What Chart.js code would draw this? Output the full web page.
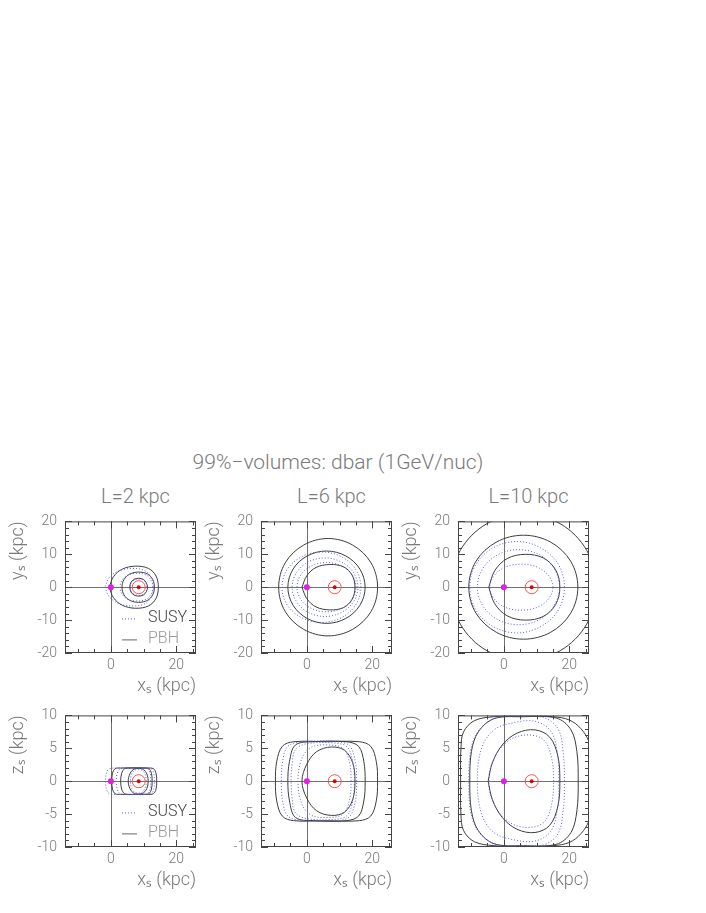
<!DOCTYPE html>
<html>
<head>
<meta charset="utf-8">
<script src="https://cdn.jsdelivr.net/npm/chart.js@4.4.1/dist/chart.umd.min.js"></script>
<style>
  body { margin: 0; background: #fff; }
  #page { position: relative; width: 706px; height: 913px; overflow: hidden;
          font-family: Roboto, "Liberation Sans", "DejaVu Sans", sans-serif; font-weight: 300; color: #7a7a7a; }
  .txt { position: absolute; white-space: nowrap; transform: translate(-50%, -50%); }
  canvas { position: absolute; }
</style>
</head>
<body>
<div id="page">
  <div class="txt" style="left:338px; top:462px; font-size:21px;">99%−volumes: dbar (1GeV/nuc)</div>
</div>
<script>
// panel titles and axes
const panelTitles = ["L=2 kpc", "L=6 kpc", "L=10 kpc"];
const legendLabels = ["SUSY", "PBH"];
const xRange = [-14, 26];
const xLabels = [0, 20];
const xMinor = [-10, -5, 5, 10, 15, 25];
const yLabelsXY = [-20, -10, 0, 10, 20];
const yMinorXY = [-18, -16, -14, -12, -8, -6, -4, -2, 2, 4, 6, 8, 12, 14, 16, 18];
const yLabelsXZ = [-10, -5, 0, 5, 10];
const yMinorXZ = [-9, -8, -7, -6, -4, -3, -2, -1, 1, 2, 3, 4, 6, 7, 8, 9];

// galactic centre and sun
const gcPoint = [[0, 0]];
const sunPoint = [[8.5, 0]];

// contours: smooth loops are listed once round; the "pointed" ones start and end at their sharp left tip

// L=2 kpc, x-y plane
const pbhXY2a = [[11.2,0],[10.8,1.4],[9.9,2.4],[8.5,2.7],[7.1,2.4],[6.1,1.4],[5.8,0],[6.1,-1.4],[7.1,-2.4],[8.5,-2.7],[9.9,-2.4],[10.8,-1.4]];
const pbhXY2b = [[13.3,0],[12.8,2.3],[11.2,4.0],[8.5,4.6],[5.8,4.0],[4.0,2.3],[3.4,0],[4.0,-2.3],[5.8,-4.0],[8.5,-4.6],[11.2,-4.0],[12.8,-2.3]];
const pbhXY2c = [[-0.5,0],[0.8,-3.2],[3.5,-5.5],[7.5,-6.4],[11.5,-5.7],[13.8,-3.4],[14.5,0],[13.8,3.4],[11.5,5.7],[7.5,6.4],[3.5,5.5],[0.8,3.2],[-0.5,0]];
const susyXY2a = [[11.0,0],[10.7,1.3],[9.8,2.2],[8.5,2.5],[7.2,2.2],[6.3,1.3],[6.0,0],[6.3,-1.3],[7.2,-2.2],[8.5,-2.5],[9.8,-2.2],[10.7,-1.3]];
const susyXY2b = [[12.8,0],[12.3,2.1],[10.8,3.7],[8.0,4.2],[5.2,3.7],[3.4,2.1],[2.8,0],[3.4,-2.1],[5.2,-3.7],[8.0,-4.2],[10.8,-3.7],[12.3,-2.1]];
const susyXY2c = [[-1.8,0],[-0.5,-2.9],[2.5,-5.0],[6.5,-5.7],[10.2,-5.1],[12.3,-3.0],[13.0,0],[12.3,3.0],[10.2,5.1],[6.5,5.7],[2.5,5.0],[-0.5,2.9],[-1.8,0]];

// L=6 kpc, x-y plane
const pbhXY6a = [[21.6,0],[19.6,7.4],[14.0,12.8],[6.5,14.8],[-1.0,12.8],[-6.6,7.4],[-8.6,0],[-6.6,-7.4],[-1.0,-12.8],[6.5,-14.8],[14.0,-12.8],[19.6,-7.4]];
const pbhXY6b = [[17.8,0],[16.2,5.5],[11.9,9.5],[6.0,11.0],[0.1,9.5],[-4.2,5.5],[-5.8,0],[-4.2,-5.5],[0.1,-9.5],[6.0,-11.0],[11.9,-9.5],[16.2,-5.5]];
const pbhXY6c = [[-1.5,0],[0.0,-3.5],[2.8,-6.0],[7.0,-6.9],[11.2,-6.2],[13.8,-3.7],[14.7,0],[13.8,3.7],[11.2,6.2],[7.0,6.9],[2.8,6.0],[0.0,3.5],[-1.5,0]];
const susyXY6a = [[16.5,0],[14.9,5.4],[10.5,9.3],[4.5,10.7],[-1.5,9.3],[-6.0,5.4],[-7.6,0],[-6.0,-5.4],[-1.5,-9.3],[4.5,-10.7],[10.5,-9.3],[14.9,-5.4]];
const susyXY6b = [[15.6,0],[14.2,4.5],[10.5,7.7],[5.5,8.9],[0.5,7.7],[-3.1,4.5],[-4.5,0],[-3.1,-4.5],[0.5,-7.7],[5.5,-8.9],[10.5,-7.7],[14.2,-4.5]];
const susyXY6c = [[15.0,0],[13.8,3.8],[10.5,6.5],[6.0,7.5],[1.5,6.5],[-1.8,3.8],[-3.0,0],[-1.8,-3.8],[1.5,-6.5],[6.0,-7.5],[10.5,-6.5],[13.8,-3.8]];

// L=10 kpc, x-y plane
const pbhXY10a = [[28.3,0],[25.3,11.2],[17.2,19.3],[6.0,22.3],[-5.2,19.3],[-13.3,11.2],[-16.3,0],[-13.3,-11.2],[-5.2,-19.3],[6.0,-22.3],[17.2,-19.3],[25.3,-11.2]];
const pbhXY10b = [[22.6,0],[20.4,7.9],[14.3,13.7],[6.0,15.8],[-2.3,13.7],[-8.5,7.9],[-10.7,0],[-8.5,-7.9],[-2.3,-13.7],[6.0,-15.8],[14.3,-13.7],[20.4,-7.9]];
const pbhXY10c = [[-4.6,0],[-2.8,-5.0],[1.0,-8.7],[6.5,-10.0],[12.0,-8.9],[15.8,-5.3],[17.1,0],[15.8,5.3],[12.0,8.9],[6.5,10.0],[1.0,8.7],[-2.8,5.0],[-4.6,0]];
const susyXY10a = [[18.5,0],[16.6,7.0],[11.2,12.0],[4.0,13.9],[-3.2,12.0],[-8.5,7.0],[-10.4,0],[-8.5,-7.0],[-3.2,-12.0],[4.0,-13.9],[11.2,-12.0],[16.6,-7.0]];
const susyXY10b = [[17.0,0],[15.3,5.7],[10.8,9.9],[4.5,11.4],[-1.8,9.9],[-6.4,5.7],[-8.1,0],[-6.4,-5.7],[-1.8,-9.9],[4.5,-11.4],[10.8,-9.9],[15.3,-5.7]];
const susyXY10c = [[15.0,0],[13.7,3.5],[10.2,6.1],[5.3,7.0],[0.4,6.1],[-3.0,3.5],[-4.3,0],[-3.0,-3.5],[0.4,-6.1],[5.3,-7.0],[10.2,-6.1],[13.7,-3.5]];

// L=2 kpc, x-z plane
const pbhXZ2a = [[11.4,0],[11.0,1.1],[10.0,1.75],[8.4,1.95],[6.8,1.75],[5.8,1.1],[5.3,0],[5.8,-1.1],[6.8,-1.75],[8.4,-1.95],[10.0,-1.75],[11.0,-1.1]];
const pbhXZ2b = [[12.6,0],[12.4,1.2],[11.6,1.9],[10.0,2.0],[6.0,2.0],[4.2,1.9],[3.3,1.2],[3.0,0],[3.3,-1.2],[4.2,-1.9],[6.0,-2.0],[10.0,-2.0],[11.6,-1.9],[12.4,-1.2]];
const pbhXZ2c = [[14.0,0],[13.8,1.2],[13.0,1.9],[11.0,2.0],[3.0,2.0],[1.3,1.9],[0.5,1.2],[0.3,0],[0.5,-1.2],[1.3,-1.9],[3.0,-2.0],[11.0,-2.0],[13.0,-1.9],[13.8,-1.2]];
const susyXZ2a = [[10.8,0],[10.5,1.0],[9.6,1.65],[8.4,1.8],[7.2,1.65],[6.3,1.0],[6.0,0],[6.3,-1.0],[7.2,-1.65],[8.4,-1.8],[9.6,-1.65],[10.5,-1.0]];
const susyXZ2b = [[12.2,0],[12.0,1.2],[11.2,1.9],[9.5,2.0],[4.0,2.0],[2.6,1.8],[1.9,1.1],[1.7,0],[1.9,-1.1],[2.6,-1.8],[4.0,-2.0],[9.5,-2.0],[11.2,-1.9],[12.0,-1.2]];
const susyXZ2c = [[13.3,0],[13.1,1.2],[12.3,1.9],[10.5,2.0],[1.0,2.0],[-0.7,1.8],[-1.4,1.1],[-1.6,0],[-1.4,-1.1],[-0.7,-1.8],[1.0,-2.0],[10.5,-2.0],[12.3,-1.9],[13.1,-1.2]];

// L=6 kpc, x-z plane
const pbhXZ6a = [[21.6,0],[21.2,3.0],[19.5,5.3],[16.0,6.0],[6.0,6.0],[-4.0,6.0],[-7.5,5.3],[-9.2,3.0],[-9.6,0],[-9.2,-3.0],[-7.5,-5.3],[-4.0,-6.0],[6.0,-6.0],[16.0,-6.0],[19.5,-5.3],[21.2,-3.0]];
const pbhXZ6b = [[17.8,0],[17.4,3.0],[15.8,5.3],[12.0,6.0],[2.0,6.0],[-3.5,5.5],[-5.3,3.0],[-5.8,0],[-5.3,-3.0],[-3.5,-5.5],[2.0,-6.0],[12.0,-6.0],[15.8,-5.3],[17.4,-3.0]];
const pbhXZ6c = [[14.7,0],[14.0,2.8],[11.5,4.7],[7.5,5.2],[3.0,4.5],[0.0,2.6],[-1.5,0],[0.0,-2.6],[3.0,-4.5],[7.5,-5.2],[11.5,-4.7],[14.0,-2.8]];
const susyXZ6a = [[15.2,0],[14.8,3.0],[13.0,5.4],[9.0,6.0],[-1.0,6.0],[-5.8,5.3],[-7.4,3.0],[-7.8,0],[-7.4,-3.0],[-5.8,-5.3],[-1.0,-6.0],[9.0,-6.0],[13.0,-5.4],[14.8,-3.0]];
const susyXZ6b = [[14.5,0],[14.0,3.0],[12.3,5.2],[8.5,5.8],[0.0,5.7],[-3.5,4.8],[-4.5,2.6],[-4.8,0],[-4.5,-2.6],[-3.5,-4.8],[0.0,-5.7],[8.5,-5.8],[12.3,-5.2],[14.0,-3.0]];
const susyXZ6c = [[13.5,0],[13.0,2.9],[11.0,5.0],[7.0,5.5],[1.5,5.2],[-1.5,3.5],[-2.7,0],[-1.5,-3.5],[1.5,-5.2],[7.0,-5.5],[11.0,-5.0],[13.0,-2.9]];

// L=10 kpc, x-z plane
const pbhXZ10a = [[27.6,0],[27.3,3.0],[26.0,6.0],[23.5,8.0],[20.0,9.3],[15.0,9.8],[5.0,9.9],[-3.0,9.8],[-9.0,9.2],[-12.3,7.5],[-13.1,5.0],[-13.2,0],[-13.1,-5.0],[-12.3,-7.5],[-9.0,-9.2],[-3.0,-9.8],[5.0,-9.9],[15.0,-9.8],[20.0,-9.3],[23.5,-8.0],[26.0,-6.0],[27.3,-3.0]];
const pbhXZ10b = [[22.7,0],[22.3,4.5],[20.5,7.8],[16.0,9.6],[6.0,9.8],[-3.0,9.5],[-7.8,7.5],[-9.9,4.5],[-10.4,0],[-9.9,-4.5],[-7.8,-7.5],[-3.0,-9.5],[6.0,-9.8],[16.0,-9.6],[20.5,-7.8],[22.3,-4.5]];
const pbhXZ10c = [[-4.8,0],[-3.5,-2.8],[-0.5,-5.5],[4.0,-7.3],[9.5,-7.8],[14.0,-6.7],[16.5,-3.8],[17.1,0],[16.5,3.8],[14.0,6.7],[9.5,7.8],[4.0,7.3],[-0.5,5.5],[-3.5,2.8],[-4.8,0]];
const susyXZ10a = [[18.5,0],[18.1,4.5],[16.5,8.0],[12.0,9.7],[4.0,9.8],[-3.0,9.5],[-8.0,7.5],[-10.2,4.5],[-10.7,0],[-10.2,-4.5],[-8.0,-7.5],[-3.0,-9.5],[4.0,-9.8],[12.0,-9.7],[16.5,-8.0],[18.1,-4.5]];
const susyXZ10b = [[16.8,0],[16.3,4.5],[14.2,7.7],[9.5,9.1],[3.0,8.9],[-3.0,7.8],[-6.8,5.0],[-8.1,0],[-6.8,-5.0],[-3.0,-7.8],[3.0,-8.9],[9.5,-9.1],[14.2,-7.7],[16.3,-4.5]];
const susyXZ10c = [[15.2,0],[14.6,3.5],[12.5,6.1],[8.5,7.0],[3.0,6.6],[-1.0,5.0],[-3.8,2.5],[-4.6,0],[-3.8,-2.5],[-1.0,-5.0],[3.0,-6.6],[8.5,-7.0],[12.5,-6.1],[14.6,-3.5]];

// which contours have a sharp tip instead of a smooth closed loop
const pointedContours = [pbhXY2c, susyXY2c, pbhXY6c, pbhXY10c, pbhXZ10c];

const textColor = "#7a7a7a";
const fontFam = "Roboto, 'Liberation Sans', 'DejaVu Sans', sans-serif";
const pbhColor = "#3d3d3d";
const susyColor = "#5a5aee";

const boxLefts = [65, 261, 458];
const boxTops = [515, 709];
const boxW = 131, boxH = 138;

const page = document.getElementById("page");

// panel titles
panelTitles.forEach((t, i) => {
  const d = document.createElement("div");
  d.className = "txt";
  d.style.left = (boxLefts[i] + boxW / 2 + 5) + "px";
  d.style.top = "496px";
  d.style.fontSize = "20px";
  d.textContent = t;
  page.appendChild(d);
});

function toPts(arr) {
  return arr.map(([x, y]) => ({ x, y }));
}

function contour(arr, isSusy) {
  return {
    data: toPts(arr),
    closed: !pointedContours.includes(arr),
    showLine: true,
    pointRadius: 0,
    borderWidth: 1,
    borderColor: isSusy ? susyColor : pbhColor,
    borderDash: isSusy ? [1, 2] : [],
    tension: 0.35,
    fill: false,
  };
}

function markers() {
  return [
    { data: toPts(sunPoint), pointRadius: 2, pointBackgroundColor: "#e00000", pointBorderWidth: 0 },
    { data: toPts(sunPoint), pointRadius: 6.5, pointBackgroundColor: "rgba(0,0,0,0)", pointBorderColor: "#ff5050", pointBorderWidth: 1 },
    { data: toPts(gcPoint), pointRadius: 3, pointBackgroundColor: "#e020e0", pointBorderWidth: 0 },
  ];
}

// let Chart.js close smooth contours the way it closes radar lines
const loopPlugin = {
  id: "loopLines",
  beforeDatasetsDraw(chart) {
    chart.data.datasets.forEach((ds, i) => {
      if (!ds.closed) return;
      const line = chart.getDatasetMeta(i).dataset;
      if (!line) return;
      line._loop = true;
      line._fullLoop = true;
      line._segments = undefined;
      line._path = undefined;
      line._pointsUpdated = false;
      line.updateControlPoints(chart.chartArea, "x");
    });
  },
};

const framePlugin = {
  id: "frame",
  beforeDatasetsDraw(chart) {
    const { ctx, chartArea: a, scales: { x, y } } = chart;
    const x0 = Math.round(x.getPixelForValue(0)) + 0.5;
    const y0 = Math.round(y.getPixelForValue(0)) + 0.5;
    ctx.save();
    ctx.strokeStyle = "#707070";
    ctx.lineWidth = 1;
    ctx.beginPath();
    ctx.moveTo(a.left, y0); ctx.lineTo(a.right, y0);
    ctx.moveTo(x0, a.top); ctx.lineTo(x0, a.bottom);
    ctx.stroke();
    ctx.restore();
  },
  afterDraw(chart, args, opts) {
    const { ctx, chartArea: a, scales: { x, y } } = chart;
    ctx.save();
    ctx.strokeStyle = "#444";
    ctx.lineWidth = 1;
    ctx.strokeRect(a.left + 0.5, a.top + 0.5, a.right - a.left - 1, a.bottom - a.top - 1);
    ctx.beginPath();
    const xt = (vals, len) => vals.forEach(v => {
      const px = Math.round(x.getPixelForValue(v)) + 0.5;
      ctx.moveTo(px, a.bottom); ctx.lineTo(px, a.bottom - len);
      ctx.moveTo(px, a.top); ctx.lineTo(px, a.top + len);
    });
    const yt = (vals, len) => vals.forEach(v => {
      const py = Math.round(y.getPixelForValue(v)) + 0.5;
      ctx.moveTo(a.left, py); ctx.lineTo(a.left + len, py);
      ctx.moveTo(a.right, py); ctx.lineTo(a.right - len, py);
    });
    xt(xMinor, 4); xt(xLabels, 7);
    yt(opts.yMinor, 4); yt(opts.yLabels, 7);
    ctx.stroke();

    if (opts.legend) {
      const lx = a.left + 57, tx = a.left + 83;
      const ly = [a.top + 97, a.top + 118];
      ctx.font = "300 16px " + fontFam;
      ctx.textBaseline = "middle";
      // SUSY
      ctx.beginPath();
      ctx.strokeStyle = susyColor;
      ctx.setLineDash([1, 2]);
      ctx.moveTo(lx, ly[0] + 0.5); ctx.lineTo(lx + 15, ly[0] + 0.5);
      ctx.stroke();
      ctx.fillStyle = "#444";
      ctx.fillText(legendLabels[0], tx, ly[0]);
      // PBH
      ctx.beginPath();
      ctx.strokeStyle = "#666";
      ctx.setLineDash([]);
      ctx.moveTo(lx, ly[1] + 0.5); ctx.lineTo(lx + 15, ly[1] + 0.5);
      ctx.stroke();
      ctx.fillStyle = "#999";
      ctx.fillText(legendLabels[1], tx, ly[1]);
    }
    ctx.restore();
  },
};

function makePanel(col, row, pbh, susy, legend) {
  const isXY = row === 0;
  const yLabels = isXY ? yLabelsXY : yLabelsXZ;
  const cv = document.createElement("canvas");
  cv.width = 206; cv.height = 198;
  cv.style.left = (boxLefts[col] - 65) + "px";
  cv.style.top = (boxTops[row] - 10) + "px";
  page.appendChild(cv);

  const datasets = markers()
    .concat(susy.map(s => contour(s, true)))
    .concat(pbh.map(p => contour(p, false)));

  new Chart(cv, {
    type: "scatter",
    data: { datasets },
    options: {
      responsive: false,
      animation: false,
      devicePixelRatio: 1,
      events: [],
      layout: { padding: { left: 0, top: 10, right: 10, bottom: 0 } },
      plugins: {
        legend: { display: false },
        tooltip: { enabled: false },
        frame: { yMinor: isXY ? yMinorXY : yMinorXZ, yLabels, legend },
      },
      scales: {
        x: {
          type: "linear", min: xRange[0], max: xRange[1],
          grid: { display: false, drawTicks: false },
          border: { display: false },
          afterBuildTicks: s => { s.ticks = xLabels.map(v => ({ value: v })); },
          afterFit: s => { s.height = 50; },
          ticks: { padding: 4, color: textColor, font: { family: fontFam, size: 14, weight: 300 } },
          title: { display: true, text: "xₛ (kpc)", align: "end", padding: { top: 0, bottom: 6 },
                   color: textColor, font: { family: fontFam, size: 18, weight: 300 } },
        },
        y: {
          type: "linear", min: yLabels[0], max: yLabels[yLabels.length - 1],
          grid: { display: false, drawTicks: false },
          border: { display: false },
          afterBuildTicks: s => { s.ticks = yLabels.map(v => ({ value: v })); },
          afterFit: s => { s.width = 65; },
          ticks: { padding: 8, color: textColor, font: { family: fontFam, size: 14, weight: 300 } },
          title: { display: true, text: isXY ? "yₛ (kpc)" : "zₛ (kpc)", align: "end", padding: { top: 8, bottom: 0 },
                   color: textColor, font: { family: fontFam, size: 18, weight: 300 } },
        },
      },
    },
    plugins: [loopPlugin, framePlugin],
  });
}

makePanel(0, 0, [pbhXY2a, pbhXY2b, pbhXY2c], [susyXY2a, susyXY2b, susyXY2c], true);
makePanel(1, 0, [pbhXY6a, pbhXY6b, pbhXY6c], [susyXY6a, susyXY6b, susyXY6c], false);
makePanel(2, 0, [pbhXY10a, pbhXY10b, pbhXY10c], [susyXY10a, susyXY10b, susyXY10c], false);
makePanel(0, 1, [pbhXZ2a, pbhXZ2b, pbhXZ2c], [susyXZ2a, susyXZ2b, susyXZ2c], true);
makePanel(1, 1, [pbhXZ6a, pbhXZ6b, pbhXZ6c], [susyXZ6a, susyXZ6b, susyXZ6c], false);
makePanel(2, 1, [pbhXZ10a, pbhXZ10b, pbhXZ10c], [susyXZ10a, susyXZ10b, susyXZ10c], false);
</script>
</body>
</html>
